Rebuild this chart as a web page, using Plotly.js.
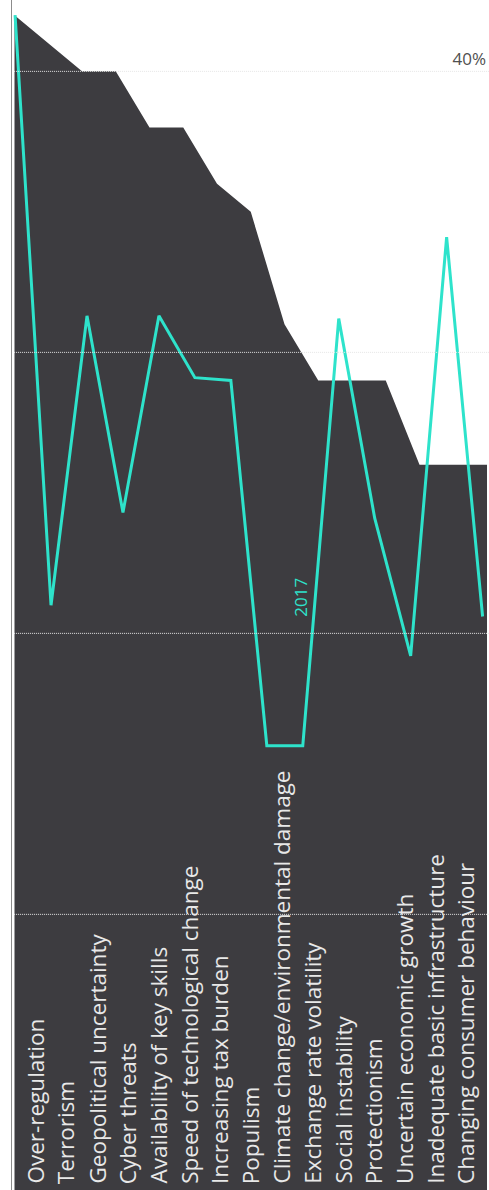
<!DOCTYPE html>
<html>
<head>
<meta charset="utf-8">
<script src="https://cdn.plot.ly/plotly-3.0.1.min.js"></script>
<style>
  html, body { margin: 0; padding: 0; background: #ffffff; overflow: hidden; }
  #chart { width: 489px; height: 1190px; }
</style>
</head>
<body>
<div id="chart"></div>
<script>
// ---- data ----
const categories = [
  "Over-regulation",
  "Terrorism",
  "Geopolitical uncertainty",
  "Cyber threats",
  "Availability of key skills",
  "Speed of technological change",
  "Increasing tax burden",
  "Populism",
  "Climate change/environmental damage",
  "Exchange rate volatility",
  "Social instability",
  "Protectionism",
  "Uncertain economic growth",
  "Inadequate basic infrastructure",
  "Changing consumer behaviour"
];
const areaValues = [42, 41, 40, 40, 38, 38, 36, 35, 31, 29, 29, 29, 26, 26, 26];

const lineCategories = categories.filter(c => c !== "Populism");
const values2017 = [42, 21, 31.3, 24.3, 31.3, 29.1, 29, 16, 16, 31.2, 24.1, 19.2, 34.1, 20.6];
const seriesName = "2017";

const yTickVals = [10, 20, 30, 40];
const yTickText = ["", "", "", "40%"];

// ---- styles ----
const FONT = "Open Sans, Noto Sans, sans-serif";
const DARK = "#3d3c40";
const CYAN = "#2ee3cb";
const Y_RANGE = [0.19, 42.54];

const traces = [
  {
    type: "scatter", mode: "lines",
    x: categories, y: areaValues,
    xaxis: "x", yaxis: "y",
    fill: "tozeroy", fillcolor: DARK,
    line: { width: 0, color: DARK },
    hoverinfo: "skip", showlegend: false
  },
  {
    type: "scatter", mode: "lines",
    name: seriesName,
    x: lineCategories, y: values2017,
    xaxis: "x2", yaxis: "y2",
    line: { width: 3, color: CYAN },
    hoverinfo: "skip", showlegend: false
  }
];

// gridlines drawn above the area (axis grids always sit below traces)
const shapes = yTickVals.map(v => ({
  type: "line", layer: "above",
  xref: "paper", yref: "y",
  x0: 0.004, x1: 1, y0: v, y1: v,
  line: { color: "#e6e6e6", width: 1, dash: "1px,1px" }
}));

const annotations = categories.map((c, i) => ({
  xref: "x3", yref: "paper",
  x: i, y: 0, yshift: 4,
  text: c, textangle: -90,
  xanchor: "center", yanchor: "bottom",
  showarrow: false,
  font: { family: FONT, size: 22.5, color: "#e8e8e8" }
}));
annotations.push({
  xref: "x2", yref: "y2",
  x: 7.95, y: 20.54,
  text: seriesName, textangle: -90,
  xanchor: "center", yanchor: "bottom",
  showarrow: false,
  font: { family: FONT, size: 17, color: CYAN }
});

const layout = {
  width: 489, height: 1190,
  margin: { l: 12, r: 0, t: 0, b: 0, pad: 0 },
  paper_bgcolor: "#ffffff", plot_bgcolor: "#ffffff",
  showlegend: false,
  xaxis: { type: "category", range: [-0.074, 14.059], visible: false, fixedrange: true },
  xaxis2: { type: "category", overlaying: "x", anchor: "y", range: [-0.0854, 13.178], visible: false, fixedrange: true },
  xaxis3: { type: "linear", overlaying: "x", anchor: "y", range: [-0.748, 14.764], visible: false, fixedrange: true },
  yaxis: {
    range: Y_RANGE, tickvals: yTickVals, showticklabels: false,
    showgrid: false,
    showline: true, linecolor: "#8c8c8c", linewidth: 1,
    zeroline: false, ticks: "", fixedrange: true
  },
  yaxis2: {
    overlaying: "y", side: "right", anchor: "x2",
    range: Y_RANGE, tickvals: yTickVals, ticktext: yTickText,
    ticklabelposition: "inside top",
    showgrid: false, zeroline: false, showline: false, ticks: "",
    tickfont: { family: FONT, size: 17, color: "#505050" },
    fixedrange: true
  },
  shapes: shapes,
  annotations: annotations
};

Plotly.newPlot("chart", traces, layout, { staticPlot: true, displayModeBar: false });
</script>
</body>
</html>
